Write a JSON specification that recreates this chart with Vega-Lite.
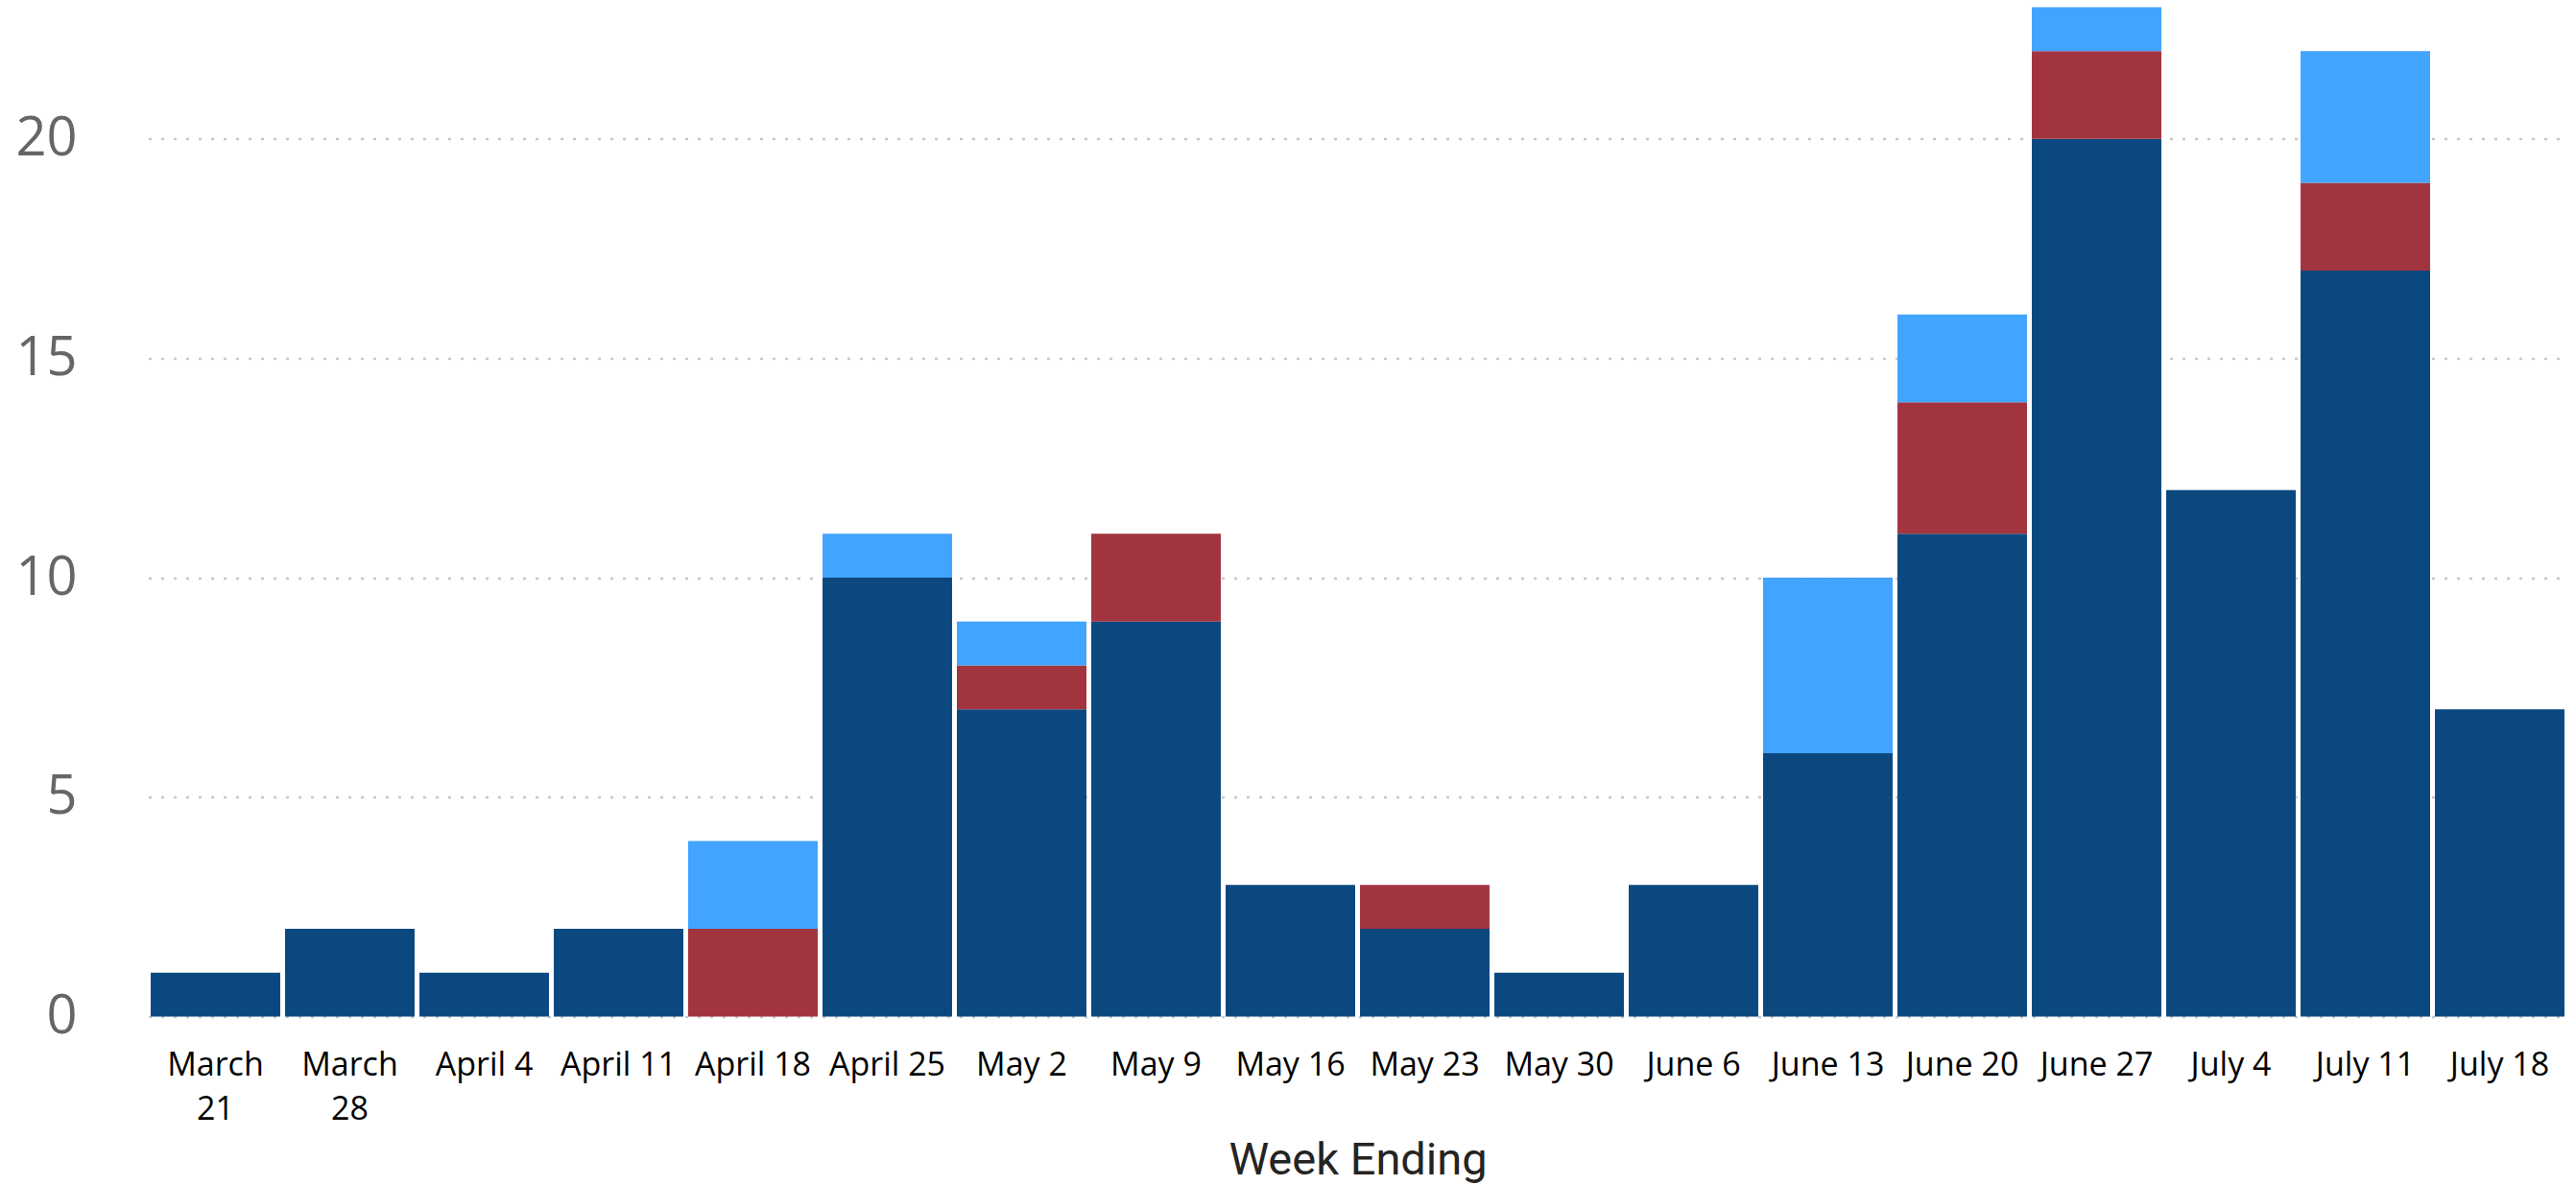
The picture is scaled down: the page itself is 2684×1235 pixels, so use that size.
{
  "$schema": "https://vega.github.io/schema/vega-lite/v6.json",
  "width": 2582,
  "height": 1052,
  "autosize": {"type": "none"},
  "padding": {"left": 102, "top": 7.5, "right": 0, "bottom": 175.5},
  "background": "white",
  "config": {"view": {"stroke": null}},
  "data": {
    "values": [
      {"week": "March 21", "type": "Type 1", "count": 1},
      {"week": "March 28", "type": "Type 1", "count": 2},
      {"week": "April 4", "type": "Type 1", "count": 1},
      {"week": "April 11", "type": "Type 1", "count": 2},
      {"week": "April 18", "type": "Type 2", "count": 2},
      {"week": "April 18", "type": "Type 3", "count": 2},
      {"week": "April 25", "type": "Type 1", "count": 10},
      {"week": "April 25", "type": "Type 3", "count": 1},
      {"week": "May 2", "type": "Type 1", "count": 7},
      {"week": "May 2", "type": "Type 2", "count": 1},
      {"week": "May 2", "type": "Type 3", "count": 1},
      {"week": "May 9", "type": "Type 1", "count": 9},
      {"week": "May 9", "type": "Type 2", "count": 2},
      {"week": "May 16", "type": "Type 1", "count": 3},
      {"week": "May 23", "type": "Type 1", "count": 2},
      {"week": "May 23", "type": "Type 2", "count": 1},
      {"week": "May 30", "type": "Type 1", "count": 1},
      {"week": "June 6", "type": "Type 1", "count": 3},
      {"week": "June 13", "type": "Type 1", "count": 6},
      {"week": "June 13", "type": "Type 3", "count": 4},
      {"week": "June 20", "type": "Type 1", "count": 11},
      {"week": "June 20", "type": "Type 2", "count": 3},
      {"week": "June 20", "type": "Type 3", "count": 2},
      {"week": "June 27", "type": "Type 1", "count": 20},
      {"week": "June 27", "type": "Type 2", "count": 2},
      {"week": "June 27", "type": "Type 3", "count": 1},
      {"week": "July 4", "type": "Type 1", "count": 12},
      {"week": "July 11", "type": "Type 1", "count": 17},
      {"week": "July 11", "type": "Type 2", "count": 2},
      {"week": "July 11", "type": "Type 3", "count": 3},
      {"week": "July 18", "type": "Type 1", "count": 7}
    ]
  },
  "mark": {"type": "bar"},
  "encoding": {
    "x": {
      "field": "week",
      "type": "ordinal",
      "sort": ["March 21", "March 28", "April 4", "April 11", "April 18", "April 25", "May 2", "May 9", "May 16", "May 23", "May 30", "June 6", "June 13", "June 20", "June 27", "July 4", "July 11", "July 18"],
      "scale": {"range": [52.5, 2572.5], "paddingInner": 0.036, "paddingOuter": 0.018},
      "axis": {
        "title": "Week Ending",
        "titleFont": "Roboto",
        "titleFontSize": 47,
        "titleFontWeight": "normal",
        "titleColor": "#252423",
        "titlePadding": 13,
        "labelFont": "Segoe UI, Open Sans",
        "labelFontSize": 34,
        "labelColor": "#000000",
        "labelAngle": 0,
        "labelPadding": 34,
        "labelLineHeight": 46,
        "labelExpr": "indexof(datum.label, 'March') == 0 ? split(datum.label, ' ') : datum.label",
        "domain": false,
        "ticks": false,
        "grid": false
      }
    },
    "y": {
      "field": "count",
      "type": "quantitative",
      "stack": "zero",
      "scale": {"domain": [0, 23], "nice": false},
      "axis": {
        "title": null,
        "values": [0, 5, 10, 15, 20],
        "domain": false,
        "ticks": false,
        "labelFont": "Segoe UI, Open Sans",
        "labelFontSize": 56,
        "labelColor": "#666666",
        "labelPadding": 22,
        "grid": true,
        "gridColor": "#C8C8C8",
        "gridDash": [3, 10],
        "gridWidth": 2.5
      }
    },
    "color": {
      "field": "type",
      "type": "nominal",
      "scale": {"domain": ["Type 1", "Type 2", "Type 3"], "range": ["#0B4880", "#A2343F", "#41A4FF"]},
      "legend": null
    },
    "order": {"field": "type", "sort": "ascending"}
  }
}
